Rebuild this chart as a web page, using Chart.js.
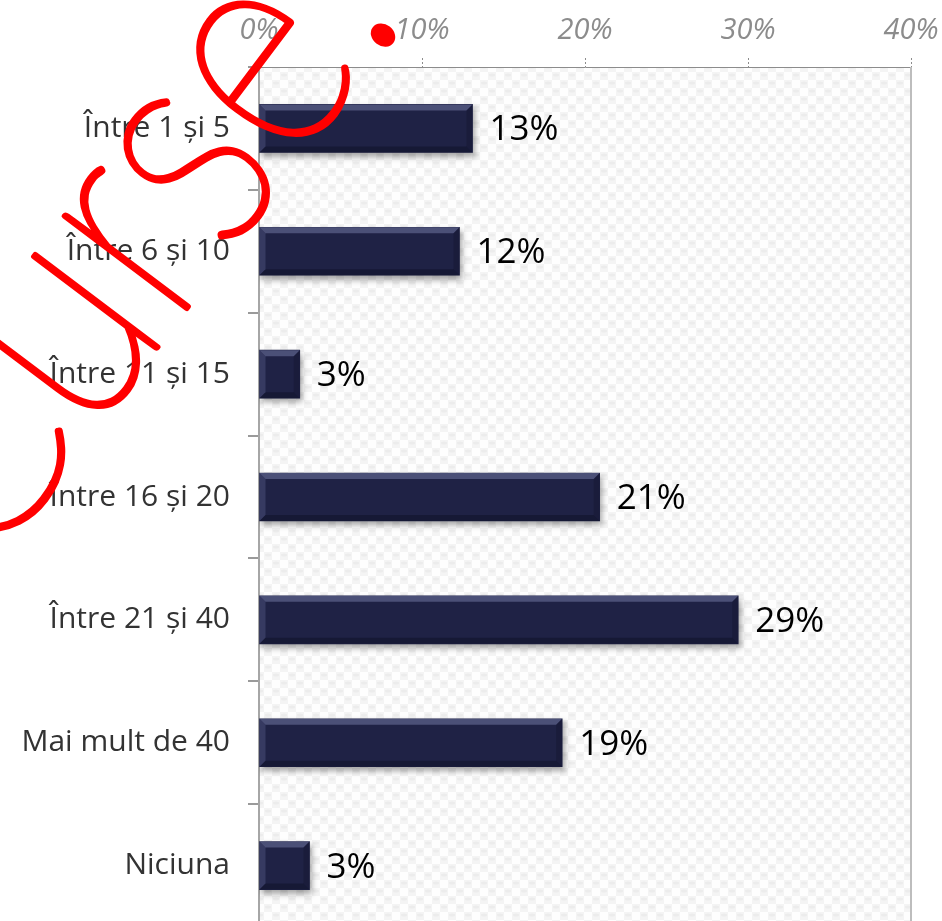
<!DOCTYPE html>
<html>
<head>
<meta charset="utf-8">
<script src="https://cdn.jsdelivr.net/npm/chart.js@4"></script>
<style>
  html, body { margin: 0; padding: 0; background: #fff; overflow: hidden; }
  canvas { display: block; }
</style>
</head>
<body>
<canvas id="myChart" width="942" height="927"></canvas>
<script>
// categorii si valori (procente)
const categories = ['Între 1 și 5', 'Între 6 și 10', 'Între 11 și 15', 'Între 16 și 20', 'Între 21 și 40', 'Mai mult de 40', 'Niciuna'];
const values = [13.1, 12.3, 2.5, 20.9, 29.4, 18.6, 3.1];
const xTicks = [0, 10, 20, 30, 40];

// fundal cu model in zona graficului
function makePattern(ctx) {
  const c = document.createElement('canvas');
  c.width = 16; c.height = 16;
  const p = c.getContext('2d');
  p.fillStyle = '#fefefe';
  p.fillRect(0, 0, 16, 16);
  p.fillStyle = '#f4f4f4';
  p.fillRect(0, 0, 8, 8);
  p.fillRect(8, 8, 8, 8);
  p.fillStyle = '#ececec';
  p.beginPath(); p.ellipse(4, 3, 3, 1.5, 0, 0, Math.PI * 2); p.fill();
  p.beginPath(); p.ellipse(12, 11, 3, 1.5, 0, 0, Math.PI * 2); p.fill();
  return ctx.createPattern(c, 'repeat');
}

const bgPlugin = {
  id: 'bg',
  beforeDraw(chart) {
    const { ctx, chartArea: a } = chart;
    ctx.save();
    ctx.fillStyle = makePattern(ctx);
    ctx.fillRect(a.left, a.top, a.right - a.left, a.bottom - a.top);
    ctx.restore();
  },
  beforeDatasetsDraw(chart) {
    const ctx = chart.ctx;
    ctx.save();
    ctx.shadowColor = 'rgba(0,0,0,0.35)';
    ctx.shadowBlur = 6;
    ctx.shadowOffsetX = 2;
    ctx.shadowOffsetY = 4;
  },
  afterDatasetsDraw(chart) {
    const ctx = chart.ctx;
    ctx.restore();
    const meta = chart.getDatasetMeta(0);
    ctx.save();
    // bevel pe fiecare bara
    meta.data.forEach((bar) => {
      const { x, y, base, height } = bar.getProps(['x', 'y', 'base', 'height'], true);
      const l = Math.min(x, base), r = Math.max(x, base);
      const t = y - height / 2, b = y + height / 2;
      const d = 6;
      ctx.fillStyle = 'rgba(120,126,170,0.5)';
      ctx.beginPath();
      ctx.moveTo(l, t); ctx.lineTo(r, t); ctx.lineTo(r - d, t + d); ctx.lineTo(l + d, t + d); ctx.closePath(); ctx.fill();
      ctx.fillStyle = 'rgba(90,96,140,0.4)';
      ctx.beginPath();
      ctx.moveTo(l, t); ctx.lineTo(l + d, t + d); ctx.lineTo(l + d, b - d); ctx.lineTo(l, b); ctx.closePath(); ctx.fill();
      ctx.fillStyle = 'rgba(10,12,30,0.4)';
      ctx.beginPath();
      ctx.moveTo(l, b); ctx.lineTo(l + d, b - d); ctx.lineTo(r - d, b - d); ctx.lineTo(r, b); ctx.closePath(); ctx.fill();
      ctx.fillStyle = 'rgba(10,12,30,0.25)';
      ctx.beginPath();
      ctx.moveTo(r, t); ctx.lineTo(r, b); ctx.lineTo(r - d, b - d); ctx.lineTo(r - d, t + d); ctx.closePath(); ctx.fill();
    });
    // etichete cu procente
    ctx.fillStyle = '#000';
    ctx.font = '35px "Open Sans"';
    ctx.textBaseline = 'middle';
    ctx.textAlign = 'left';
    meta.data.forEach((bar, i) => {
      ctx.fillText(Math.round(values[i]) + '%', bar.x + 17, bar.y + 2);
    });
    ctx.restore();
  },
  afterDraw(chart) {
    const { ctx, chartArea: a } = chart;
    ctx.save();
    ctx.strokeStyle = '#bdbdbd';
    ctx.lineWidth = 2;
    ctx.beginPath();
    ctx.moveTo(a.right, a.top);
    ctx.lineTo(a.right, a.bottom);
    ctx.stroke();
    // filigran
    ctx.translate(-18, 580);
    ctx.rotate(-53 * Math.PI / 180);
    ctx.scale(1.04, 1.25);
    ctx.fillStyle = '#ff0000';
    ctx.strokeStyle = '#ff0000';
    ctx.lineWidth = 4.5;
    ctx.lineJoin = 'round';
    ctx.font = '100 250px Lato';
    ctx.textBaseline = 'alphabetic';
    ctx.fillText('Curse...', 0, 0);
    ctx.strokeText('Curse...', 0, 0);
    ctx.restore();
  }
};

const ctx = document.getElementById('myChart').getContext('2d');
const myChart = new Chart(ctx, {
  type: 'bar',
  data: {
    labels: categories,
    datasets: [{
      data: values,
      backgroundColor: '#1f2245',
      borderWidth: 0,
      barThickness: 48
    }]
  },
  options: {
    indexAxis: 'y',
    responsive: false,
    animation: false,
    layout: { padding: { left: 0, right: 31, top: 0, bottom: 0 } },
    plugins: { legend: { display: false }, tooltip: { enabled: false } },
    scales: {
      x: {
        position: 'top',
        min: 0,
        max: 40,
        afterBuildTicks: (scale) => { scale.ticks = xTicks.map(v => ({ value: v })); },
        afterFit: (scale) => {
          scale.height = 67;
          scale.paddingLeft = 0;
          scale.paddingRight = 0;
        },
        ticks: {
          color: '#8c8c8c',
          font: { family: 'Open Sans', size: 29, style: 'italic' },
          padding: 10,
          maxRotation: 0,
          callback: (v) => v + '%'
        },
        grid: {
          drawOnChartArea: false,
          drawTicks: true,
          tickLength: 9,
          color: '#8c8c8c',
          tickBorderDash: [2, 2]
        },
        border: { display: true, color: '#8c8c8c', dash: [2, 2], width: 1 }
      },
      y: {
        afterFit: (scale) => {
          scale.width = 259;
          scale.paddingTop = 0;
          scale.paddingBottom = 0;
        },
        ticks: {
          color: '#333333',
          font: { family: 'Open Sans', size: 30 },
          padding: 18
        },
        grid: {
          offset: true,
          drawOnChartArea: false,
          drawTicks: true,
          tickLength: 11,
          color: '#9a9a9a',
          lineWidth: 2
        },
        border: { display: true, color: '#a6a6a6', width: 2 }
      }
    }
  },
  plugins: [bgPlugin]
});
</script>
</body>
</html>
